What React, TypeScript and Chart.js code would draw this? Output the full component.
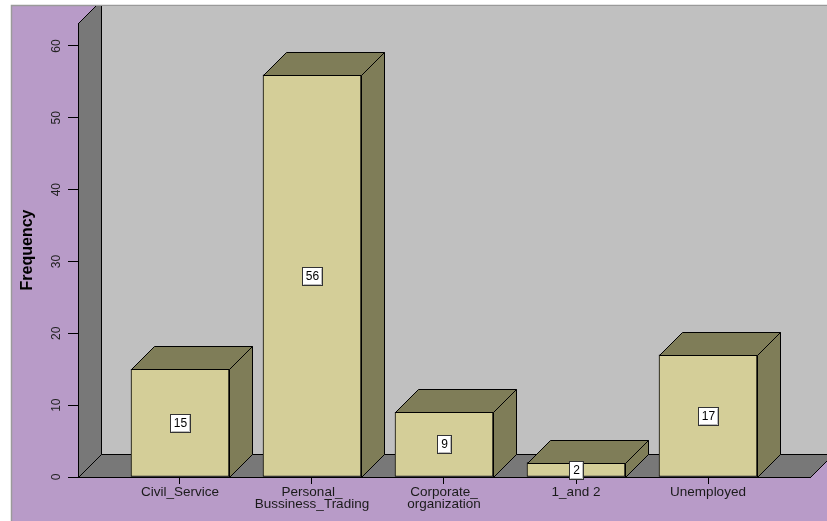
import React, { useEffect, useRef } from 'react';
import { Chart, registerables } from 'chart.js';

Chart.register(...registerables);

// ---- data ----
const categories: (string | string[])[] = [
  'Civil_Service',
  ['Personal_', 'Bussiness_Trading'],
  ['Corporate_', 'organization'],
  '1_and 2',
  'Unemployed',
];
const frequencies: number[] = [15, 56, 9, 2, 17];
const yTickValues: number[] = [0, 10, 20, 30, 40, 50, 60];
const yMax = 63.2;
const yTitle = 'Frequency';

// ---- style ----
const DEPTH = 23;
const PURPLE = '#b89bc8';
const BACK_WALL = '#c0c0c0';
const DARK_WALL = '#787878';
const BAR_FRONT = '#d4ce98';
const BAR_DARK = '#7f7d58';

function poly(ctx: CanvasRenderingContext2D, pts: number[][], fill: string) {
  ctx.beginPath();
  ctx.moveTo(pts[0][0], pts[0][1]);
  for (let i = 1; i < pts.length; i++) ctx.lineTo(pts[i][0], pts[i][1]);
  ctx.closePath();
  ctx.fillStyle = fill;
  ctx.fill();
  ctx.strokeStyle = '#000';
  ctx.lineWidth = 1;
  ctx.stroke();
}

const spss3d = {
  id: 'spss3d',
  beforeDraw(chart: any) {
    const { ctx, chartArea: a, width, height } = chart;
    const D = DEPTH;
    ctx.save();
    ctx.fillStyle = '#fff';
    ctx.fillRect(0, 0, width, height);
    const boxL = 11, boxT = 6;
    ctx.fillStyle = PURPLE;
    ctx.fillRect(boxL, boxT, width - boxL, height - boxT);
    ctx.strokeStyle = '#9a9a9a';
    ctx.lineWidth = 1.5;
    ctx.beginPath();
    ctx.moveTo(boxL + 0.5, height);
    ctx.lineTo(boxL + 0.5, boxT - 0.5);
    ctx.lineTo(width, boxT - 0.5);
    ctx.stroke();
    ctx.beginPath();
    ctx.rect(boxL + 1, boxT, width, height);
    ctx.clip();
    const L = a.left + 0.5, R = a.right + 0.5, T = a.top + 0.5, B = a.bottom + 0.5;
    ctx.fillStyle = BACK_WALL;
    ctx.fillRect(L + D, 0, width, B - D);
    poly(ctx, [[L, B], [L, T], [L + D, T - D], [L + D, B - D]], DARK_WALL);
    poly(ctx, [[L, B], [R, B], [R + D, B - D], [L + D, B - D]], DARK_WALL);
    ctx.restore();
  },
  afterDatasetsDraw(chart: any) {
    const { ctx } = chart;
    const D = DEPTH;
    const meta = chart.getDatasetMeta(0);
    ctx.save();
    meta.data.forEach((el: any) => {
      const { x, y, base, width } = el.getProps(['x', 'y', 'base', 'width'], true);
      const l = Math.round(x - width / 2) + 0.5;
      const r = Math.round(x + width / 2) + 0.5;
      const t = Math.round(y) + 0.5;
      const b = Math.round(base) + 0.5;
      poly(ctx, [[l, t], [l + D, t - D], [r + D, t - D], [r, t]], BAR_DARK);
      poly(ctx, [[r, t], [r + D, t - D], [r + D, b - D], [r, b]], BAR_DARK);
    });
    ctx.font = '12px "Liberation Sans", Arial, sans-serif';
    ctx.textAlign = 'center';
    ctx.textBaseline = 'middle';
    meta.data.forEach((el: any, i: number) => {
      const { x, y, base } = el.getProps(['x', 'y', 'base'], true);
      const txt = String(frequencies[i]);
      const tw = ctx.measureText(txt).width;
      const bw = Math.round(tw + 7);
      const bh = 18;
      const cy = (y + base) / 2;
      const bx = Math.round(x - bw / 2) + 0.5;
      const by = Math.round(cy - bh / 2) + 0.5;
      ctx.fillStyle = '#fff';
      ctx.fillRect(bx, by, bw, bh);
      ctx.strokeStyle = '#333';
      ctx.lineWidth = 1;
      ctx.strokeRect(bx, by, bw, bh);
      ctx.strokeStyle = '#bbb';
      ctx.beginPath();
      ctx.moveTo(bx + 1, by + bh - 1);
      ctx.lineTo(bx + bw - 1, by + bh - 1);
      ctx.lineTo(bx + bw - 1, by + 1);
      ctx.stroke();
      ctx.fillStyle = '#000';
      ctx.fillText(txt, Math.round(x) + 0.5, Math.round(cy) + 1);
    });
    ctx.restore();
  },
  afterDraw(chart: any) {
    const { ctx, chartArea: a } = chart;
    const yScale = chart.scales.y;
    ctx.save();
    ctx.font = '12px "Liberation Sans Narrow", "Liberation Sans", Arial, sans-serif';
    ctx.fillStyle = '#222';
    ctx.textAlign = 'center';
    ctx.textBaseline = 'middle';
    yScale.ticks.forEach((t: any) => {
      const py = yScale.getPixelForValue(t.value);
      ctx.save();
      ctx.translate(a.left - 21, py);
      ctx.rotate(-Math.PI / 2);
      ctx.fillText(String(t.value), 0, 0);
      ctx.restore();
    });
    ctx.restore();
  },
};

export default function App() {
  const ref = useRef<HTMLCanvasElement | null>(null);
  useEffect(() => {
    if (!ref.current) return;
    const chart = new Chart(ref.current, {
      type: 'bar',
      data: {
        datasets: [
          {
            data: frequencies.map((v, i) => ({ x: i, y: v })),
            backgroundColor: BAR_FRONT,
            borderColor: '#000',
            borderWidth: 1,
            borderSkipped: false,
            barThickness: 98,
          } as any,
        ],
      },
      options: {
        responsive: false,
        animation: false,
        devicePixelRatio: 1,
        layout: { padding: { top: 23, right: 17, left: 0, bottom: 0 } },
        plugins: { legend: { display: false }, tooltip: { enabled: false } },
        scales: {
          x: {
            type: 'linear',
            offset: false,
            min: -0.7727,
            max: 4.7727,
            afterBuildTicks: (s: any) => {
              s.ticks = categories.map((_, i) => ({ value: i }));
            },
            afterFit: (s: any) => {
              s.height = 44;
            },
            ticks: {
              autoSkip: false,
              maxRotation: 0,
              minRotation: 0,
              padding: 2,
              color: '#1a1a1a',
              font: { family: '"Liberation Sans", Arial, sans-serif', size: 13.5, lineHeight: '12.5px' as any },
              callback: (v: any) => categories[Math.round(Number(v))] ?? '',
            },
            grid: { display: true, offset: false, drawOnChartArea: false, drawTicks: true, tickLength: 7, color: '#000' },
            border: { display: true, color: '#000', width: 1 },
          },
          y: {
            type: 'linear',
            min: 0,
            max: yMax,
            afterBuildTicks: (s: any) => {
              s.ticks = yTickValues.map((v) => ({ value: v }));
            },
            afterFit: (s: any) => {
              s.width = 78;
            },
            ticks: { display: false },
            grid: { display: true, drawOnChartArea: false, drawTicks: true, tickLength: 10, color: '#000' },
            border: { display: true, color: '#000', width: 1 },
            title: {
              display: true,
              text: yTitle,
              color: '#000',
              font: { family: '"Liberation Sans", Arial, sans-serif', size: 16, weight: 'bold' },
              padding: { top: 18, bottom: 0 },
            },
          },
        },
      },
      plugins: [spss3d],
    });
    return () => chart.destroy();
  }, []);
  return (
    <div style={{ position: 'absolute', left: 0, top: 0, width: 827, height: 521 }}>
      <canvas ref={ref} width={827} height={521} style={{ display: 'block' }} />
    </div>
  );
}
